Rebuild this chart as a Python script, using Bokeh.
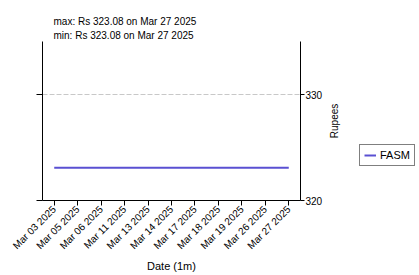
import math
from bokeh.plotting import figure
from bokeh.layouts import row
from bokeh.models import (LinearAxis, SingleIntervalTicker, FixedTicker, Range1d, FactorRange,
                          Legend, LegendItem, Title, CustomJSTickFormatter, CategoricalAxis)
from bokeh.embed import file_html
from bokeh.resources import INLINE

dates = ["Mar 03 2025", "Mar 05 2025", "Mar 06 2025", "Mar 11 2025", "Mar 13 2025",
         "Mar 14 2025", "Mar 17 2025", "Mar 18 2025", "Mar 19 2025", "Mar 26 2025",
         "Mar 27 2025"]
prices = [323.08, 323.08, 323.08, 323.08, 323.08, 323.08, 323.08, 323.08, 323.08,
          323.08, 323.08]
series_name = "FASM"
y_label = "Rupees"
x_label = "Date (1m)"
max_text = "max: Rs 323.08 on Mar 27 2025"
min_text = "min: Rs 323.08 on Mar 27 2025"

FONT = "Liberation Sans"
LINE_COLOR = "#5a50d2"

fig = figure(frame_width=258, frame_height=159, output_backend="svg", toolbar_location=None,
             x_range=FactorRange(*dates), y_range=Range1d(320, 335),
             y_axis_location=None, x_axis_location=None,
             min_border_left=42, min_border_right=24, min_border_top=41,
             min_border_bottom=75, title=None)
fig.outline_line_color = None
fig.background_fill_color = "white"
fig.border_fill_color = "white"

fig.line(dates, prices, line_color=LINE_COLOR, line_width=2)

ticker = SingleIntervalTicker(interval=10, num_minor_ticks=0)

# bottom axis
xa = CategoricalAxis(axis_label=x_label)
xa.major_label_orientation = math.pi / 4
xa.major_label_text_font = FONT
xa.major_label_text_font_size = "10px"
xa.major_label_text_color = "black"
xa.axis_label_text_font = FONT
xa.axis_label_text_font_size = "11px"
xa.axis_label_text_font_style = "normal"
xa.axis_label_text_color = "black"
xa.major_tick_out = 5
xa.major_tick_in = 0
xa.axis_line_color = "black"
xa.major_tick_line_color = "black"
xa.axis_label_standoff = 2
xa.major_label_standoff = 2
fig.add_layout(xa, "below")

# left axis (ticks only)
la = LinearAxis(ticker=ticker)
la.formatter = CustomJSTickFormatter(code="return ''")
la.major_tick_out = 6
la.major_tick_in = 0
la.minor_tick_line_color = None
la.axis_line_color = "black"
la.major_tick_line_color = "black"
la.major_label_text_font_size = "1px"
fig.add_layout(la, "left")

# right axis (tick labels only; its title is drawn by the next panel)
ra = LinearAxis(ticker=ticker)
ra.major_tick_out = 4
ra.major_tick_in = 0
ra.minor_tick_line_color = None
ra.axis_line_color = "black"
ra.major_tick_line_color = "black"
ra.major_label_text_font = FONT
ra.major_label_text_font_size = "10px"
ra.major_label_text_color = "black"
ra.major_label_standoff = 1
fig.add_layout(ra, "right")

fig.xgrid.grid_line_color = None
fig.ygrid.ticker = ticker
fig.ygrid.grid_line_color = "#c8c8c8"
fig.ygrid.grid_line_dash = "5 2"

t_min = Title(text=min_text, align="left", offset=11, text_font=FONT,
              text_font_size="10px", text_font_style="normal", standoff=1,
              text_color="black")
t_max = Title(text=max_text, align="left", offset=11, text_font=FONT,
              text_font_size="10px", text_font_style="normal", standoff=1,
              text_color="black")
fig.add_layout(t_min, "above")
fig.add_layout(t_max, "above")

# side panel: y-axis title (reading bottom to top) and the legend
leg = figure(frame_width=79, frame_height=159, output_backend="svg", toolbar_location=None,
             x_range=Range1d(0, 1), y_range=Range1d(0, 1),
             x_axis_location=None, y_axis_location=None, title=None,
             min_border_left=14, min_border_right=0,
             min_border_top=41, min_border_bottom=75)
leg.outline_line_color = None
leg.xgrid.grid_line_color = None
leg.ygrid.grid_line_color = None
leg.background_fill_color = "white"
leg.border_fill_color = "white"

ya = LinearAxis(ticker=FixedTicker(ticks=[]), axis_label=y_label)
ya.axis_line_color = None
ya.major_tick_line_color = None
ya.minor_tick_line_color = None
ya.major_tick_out = 0
ya.major_tick_in = 0
ya.axis_label_text_font = FONT
ya.axis_label_text_font_size = "10px"
ya.axis_label_text_font_style = "normal"
ya.axis_label_text_color = "black"
ya.axis_label_standoff = 3
leg.add_layout(ya, "left")

key = leg.line([-2, -1], [-2, -1], line_color=LINE_COLOR, line_width=2)
legend = Legend(items=[LegendItem(label=series_name, renderers=[key])],
                label_text_font=FONT, label_text_font_size="11px",
                label_text_color="black",
                border_line_color="black", border_line_width=1,
                glyph_width=12, glyph_height=10, label_standoff=4,
                padding=4, spacing=0, margin=0, location=(17, 34))
leg.add_layout(legend, "center")

p = row(fig, leg, spacing=0)

open("out.html", "w").write(file_html(p, INLINE))
